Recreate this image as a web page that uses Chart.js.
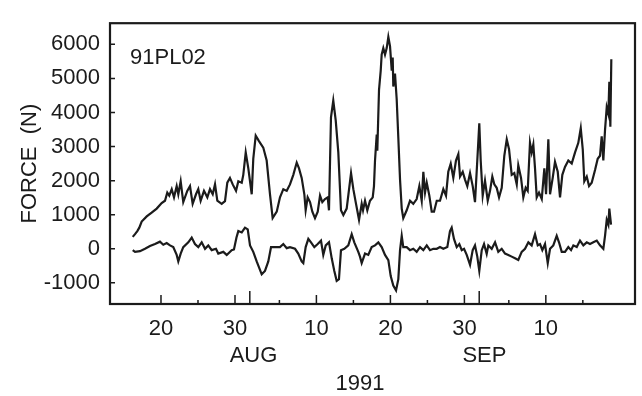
<!DOCTYPE html>
<html><head><meta charset="utf-8">
<script src="https://cdn.jsdelivr.net/npm/chart.js@4.4.1/dist/chart.umd.min.js"></script>
<style>html,body{margin:0;padding:0;background:#fff}canvas{display:block}</style>
</head><body>
<canvas id="c" width="642" height="396"></canvas>
<script>
// x values: day counted from 1 July 1991 (Aug 1 = 32, Sep 1 = 63)
const upperForce = [[16.18,350],[16.49,430],[16.80,520],[17.07,620],[17.39,800],[18.07,950],[18.74,1060],[19.42,1180],[20.09,1340],[20.54,1410],[20.85,1650],[21.12,1560],[21.45,1750],[21.76,1510],[22.12,1840],[22.34,1600],[22.66,1980],[23.01,1370],[23.55,1700],[23.92,1840],[24.28,1320],[24.73,1600],[25.04,1750],[25.36,1410],[25.81,1700],[26.26,1510],[26.62,1750],[26.99,1600],[27.30,1890],[27.61,1410],[28.20,1320],[28.65,1400],[28.96,1940],[29.32,2080],[29.69,1890],[30.14,1700],[30.45,1980],[30.91,1940],[31.12,2170],[31.45,2830],[31.80,2360],[32.26,1600],[32.47,2640],[32.80,3320],[33.24,3160],[33.82,2970],[34.28,2590],[34.73,1600],[35.09,900],[35.64,1090],[36.08,1510],[36.53,1750],[36.99,1700],[37.43,1890],[37.88,2170],[38.34,2530],[38.65,2360],[39.01,2080],[39.37,1600],[39.55,1130],[39.82,1510],[40.14,1370],[40.45,1090],[40.81,900],[41.18,1090],[41.49,1560],[41.80,1370],[42.16,1460],[42.53,1510],[42.70,1130],[42.97,3860],[43.28,4350],[43.61,3770],[43.96,2830],[44.32,1130],[44.64,990],[45.09,1180],[45.68,2220],[45.99,1750],[46.31,1370],[46.76,850],[47.12,1320],[47.30,1130],[47.57,1410],[47.88,1130],[48.24,1410],[48.61,1510],[48.78,1840],[48.92,2590],[49.15,3350],[49.23,2880],[49.46,4660],[49.69,5230],[49.82,5700],[50.04,5890],[50.27,5700],[50.50,5890],[50.72,6220],[50.95,5940],[51.18,5230],[51.31,5610],[51.39,4760],[51.62,5140],[51.85,4380],[52.07,3250],[52.30,2030],[52.53,1180],[52.74,900],[53.20,1130],[53.65,1410],[54.09,1320],[54.55,1460],[54.91,1840],[55.23,1410],[55.45,2260],[55.68,1650],[55.91,1940],[56.26,1560],[56.58,1090],[56.89,1090],[57.26,1410],[57.70,1410],[58.15,1750],[58.51,1560],[58.82,2260],[59.15,2500],[59.50,2080],[59.86,2590],[60.18,2780],[60.41,2120],[60.77,2260],[61.08,2030],[61.39,1840],[61.76,2220],[62.12,1840],[62.43,1370],[62.74,2590],[63.01,3680],[63.20,2590],[63.47,1560],[63.78,2000],[64.15,1410],[64.46,1700],[64.77,2120],[65.04,1890],[65.36,1790],[65.68,1510],[66.04,1790],[66.39,2730],[66.72,3210],[67.03,2920],[67.39,2170],[67.74,2220],[68.07,1890],[68.28,2450],[68.65,2080],[68.96,1510],[69.28,1790],[69.55,1700],[69.86,3110],[70.09,2830],[70.31,3060],[70.54,2360],[70.77,1510],[71.08,1650],[71.45,1460],[71.80,2360],[72.03,1600],[72.34,3210],[72.57,1600],[72.93,2080],[73.24,2550],[73.61,2260],[73.92,1510],[74.23,2170],[74.59,2400],[75.04,2590],[75.50,2500],[75.95,2830],[76.39,3110],[76.72,3540],[76.99,2920],[77.20,1980],[77.53,2120],[77.84,1840],[78.20,1940],[78.65,2310],[79.01,2640],[79.32,2730],[79.55,3300],[79.77,2590],[80.00,3490],[80.23,4150],[80.45,3960],[80.58,4900],[80.72,3580],[80.85,5560]];

const lowerForce = [[16.18,-40],[16.49,-90],[17.16,-70],[17.84,0],[18.51,80],[19.19,140],[19.86,210],[20.31,120],[20.77,170],[21.22,100],[21.66,50],[22.12,-180],[22.34,-370],[22.66,-140],[23.01,50],[23.69,190],[24.15,330],[24.59,140],[25.04,50],[25.50,190],[25.95,0],[26.39,100],[26.85,-40],[27.43,0],[27.74,-140],[28.42,-90],[28.88,-180],[29.55,-40],[29.86,-20],[30.20,330],[30.45,520],[30.91,480],[31.35,620],[31.72,570],[32.03,100],[32.47,-90],[32.93,-370],[33.61,-750],[34.05,-650],[34.50,-370],[34.87,50],[35.41,50],[36.08,50],[36.53,140],[36.99,20],[37.43,50],[38.11,0],[38.55,-140],[39.01,-370],[39.23,-420],[39.55,50],[39.91,290],[40.27,190],[40.72,50],[41.18,140],[41.62,240],[41.93,-180],[42.26,100],[42.70,190],[43.07,-280],[43.42,-650],[43.74,-940],[44.05,-890],[44.32,-40],[44.77,0],[45.31,100],[45.77,430],[46.12,190],[46.66,-90],[46.89,-230],[47.12,-420],[47.57,-140],[48.01,-180],[48.47,50],[48.92,100],[49.37,190],[49.82,50],[50.27,-180],[50.72,-330],[51.04,-800],[51.39,-1080],[51.76,-1220],[52.07,-890],[52.30,-40],[52.53,380],[52.74,50],[53.20,50],[53.65,-40],[54.09,0],[54.55,-90],[55.00,50],[55.45,-40],[55.91,100],[56.35,-40],[56.80,0],[57.26,0],[57.70,50],[58.15,0],[58.69,50],[59.05,520],[59.28,620],[59.59,290],[59.96,50],[60.31,140],[60.64,-40],[60.95,0],[61.31,-180],[61.76,-470],[62.12,-40],[62.43,100],[62.74,-230],[63.01,-650],[63.34,-40],[63.65,140],[64.01,-150],[64.23,100],[64.69,0],[65.14,190],[65.58,-90],[66.04,0],[66.49,-140],[66.93,-180],[67.39,-230],[67.84,-280],[68.28,-330],[68.74,-90],[69.19,0],[69.64,190],[70.09,100],[70.54,430],[70.91,100],[71.22,140],[71.53,-40],[71.89,140],[72.26,-420],[72.57,0],[73.01,100],[73.47,380],[73.78,190],[74.15,-90],[74.59,-90],[75.04,50],[75.41,-40],[75.72,100],[76.18,50],[76.62,240],[77.07,100],[77.53,190],[77.97,140],[78.42,190],[78.88,240],[79.32,100],[79.77,0],[80.00,380],[80.23,850],[80.45,710],[80.58,1180],[80.81,710]];

const yTicks = [-1000, 0, 1000, 2000, 3000, 4000, 5000, 6000];
const xTickDays = [20, 25, 30, 32, 36, 41, 46, 51, 56, 61, 63, 67, 72, 77];
const xTickLabels = {20: '20', 30: '30', 41: '10', 51: '20', 61: '30', 72: '10'};
const monthStarts = [32, 63];
const monthLabels = [['AUG', 32.5], ['SEP', 63.7]];
const yearLabel = ['1991', 46.9];
const stationLabel = '91PL02';
const yTitle = 'FORCE  (N)';
const xRange = [13.11, 84.05];
const yRange = [-1620, 6620];

const ink = '#1b1b1b';
const FONT = '"Liberation Sans", Arial, Helvetica, sans-serif';

const framePlugin = {
  id: 'frame',
  afterDraw(chart) {
    const {ctx, chartArea: a, scales: {x, y}} = chart;
    ctx.save();
    ctx.strokeStyle = ink;
    ctx.lineWidth = 2.2;
    ctx.strokeRect(a.left, a.top, a.right - a.left, a.bottom - a.top);
    ctx.lineWidth = 1.5;
    ctx.beginPath();
    y.ticks.forEach(t => {
      const py = y.getPixelForValue(t.value);
      ctx.moveTo(a.left, py); ctx.lineTo(a.left + 5, py);
    });
    xTickDays.forEach(d => {
      const px = x.getPixelForValue(d);
      const len = monthStarts.includes(d) ? 13 : (xTickLabels[d] ? 9 : 4);
      ctx.moveTo(px, a.bottom); ctx.lineTo(px, a.bottom - len);
    });
    ctx.stroke();

    ctx.fillStyle = ink;
    ctx.font = '22px ' + FONT;
    ctx.textAlign = 'center';
    ctx.textBaseline = 'alphabetic';
    xTickDays.forEach(d => {
      if (xTickLabels[d]) ctx.fillText(xTickLabels[d], x.getPixelForValue(d), a.bottom + 31);
    });
    monthLabels.forEach(([t, d]) => ctx.fillText(t, x.getPixelForValue(d), a.bottom + 58));
    ctx.fillText(yearLabel[0], x.getPixelForValue(yearLabel[1]), a.bottom + 86);

    ctx.textAlign = 'left';
    ctx.fillText(stationLabel, a.left + 20, a.top + 41);

    ctx.translate(36, (a.top + a.bottom) / 2);
    ctx.rotate(-Math.PI / 2);
    ctx.textAlign = 'center';
    ctx.fillText(yTitle, 0, 0);
    ctx.restore();
  }
};

const toXY = arr => arr.map(([d, v]) => ({x: d, y: v}));

new Chart(document.getElementById('c'), {
  type: 'line',
  data: {
    datasets: [
      {label: 'upper', data: toXY(upperForce), borderColor: ink, borderWidth: 2.2, pointRadius: 0, tension: 0, fill: false},
      {label: 'lower', data: toXY(lowerForce), borderColor: ink, borderWidth: 2.2, pointRadius: 0, tension: 0, fill: false}
    ]
  },
  options: {
    responsive: false,
    animation: false,
    devicePixelRatio: 1,
    layout: {padding: {left: 0, right: 7, top: 12, bottom: 0}},
    plugins: {legend: {display: false}, tooltip: {enabled: false}},
    scales: {
      x: {
        type: 'linear', min: xRange[0], max: xRange[1],
        grid: {display: false}, border: {display: false},
        ticks: {display: false},
        afterFit: s => { s.height = 92; }
      },
      y: {
        type: 'linear', min: yRange[0], max: yRange[1],
        grid: {display: false, drawTicks: false}, border: {display: false},
        afterBuildTicks: s => { s.ticks = yTicks.map(v => ({value: v})); },
        ticks: {
          padding: 10, color: ink, font: {family: FONT, size: 22},
          callback: v => String(v)
        },
        afterFit: s => { s.width = 110; }
      }
    }
  },
  plugins: [framePlugin]
});
</script>
</body></html>
